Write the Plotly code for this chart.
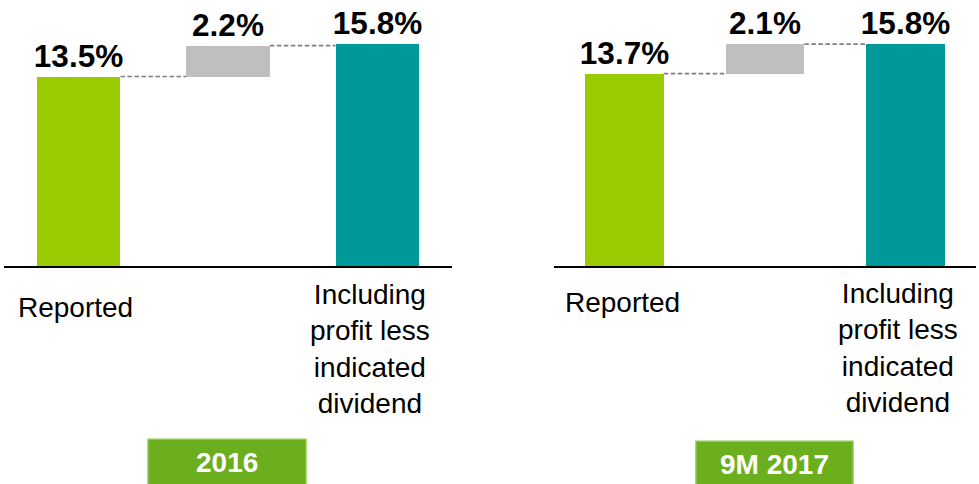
import plotly.graph_objects as go

# ---- data ----
categories = ["Reported", "", "Including<br>profit less<br>indicated<br>dividend"]
panel_titles = ["2016", "9M 2017"]
reported = [13.5, 13.7]
adjustment = [2.2, 2.1]
including = [15.8, 15.8]
bar_colors = ["#99CC00", "#BFBFBF", "#009999"]

W, H = 979, 484
BASE_PX = 266.5          # pixel y of the x-axis baseline
def py(y_px):
    return (BASE_PX - y_px) / BASE_PX

fig = go.Figure()

panels = [
    dict(xa="x", ya="y", dom=[4 / W, 452 / W],
         lab_y=[308, 350], lab_dx=[-3, -7],
         box=[148, 306], box_top=440, ttl_y=463),
    dict(xa="x2", ya="y2", dom=[554 / W, 976 / W],
         lab_y=[303, 349], lab_dx=[-2, -8],
         box=[696, 853], box_top=442, ttl_y=465),
]

BW = 0.56
annotations = []
shapes = []
for i, p in enumerate(panels):
    vals = [reported[i], adjustment[i], including[i]]
    bases = [0, reported[i], 0]
    tops = [b + v for b, v in zip(bases, vals)]
    fig.add_trace(go.Bar(
        x=[0, 1, 2], y=vals, base=bases,
        marker=dict(color=bar_colors, line=dict(width=0)),
        width=BW,
        text=[f"{v:.1f}%" for v in vals],
        textposition="outside",
        textfont=dict(family="Liberation Sans, Arial, sans-serif", size=31.5, color="#000000"),
        texttemplate="<b>%{text}</b>",
        constraintext="none",
        cliponaxis=False,
        xaxis=p["xa"], yaxis=p["ya"],
        showlegend=False, hoverinfo="skip",
    ))
    # dashed connectors
    fig.add_trace(go.Scatter(
        x=[0 + BW / 2, 1 - BW / 2, None, 1 + BW / 2, 2 - BW / 2],
        y=[tops[0], tops[0], None, tops[1], tops[1]],
        mode="lines",
        line=dict(color="#7F7F7F", width=1.7, dash="4.5px,2.5px"),
        xaxis=p["xa"], yaxis=p["ya"],
        showlegend=False, hoverinfo="skip", cliponaxis=False,
    ))
    # category labels
    for k, (cat, ly, dx) in enumerate(zip([categories[0], categories[2]], p["lab_y"], p["lab_dx"])):
        annotations.append(dict(
            x=[0, 2][k], xref=p["xa"], y=py(ly), yref="paper",
            text=cat, showarrow=False, xanchor="center", yanchor="middle",
            xshift=dx, align="center",
            font=dict(family="Liberation Sans, Arial, sans-serif", size=28, color="#000000"),
        ))
    # period box
    shapes.append(dict(
        type="rect", xref="paper", yref="paper",
        x0=p["box"][0] / W, x1=p["box"][1] / W,
        y0=py(p["box_top"]), y1=py(500),
        fillcolor="#6BAE1E", line=dict(color="#8DCB55", width=1.5), layer="above",
    ))
    annotations.append(dict(
        x=(p["box"][0] + p["box"][1]) / 2 / W, xref="paper",
        y=py(p["ttl_y"]), yref="paper",
        text=f"<b>{panel_titles[i]}</b>", showarrow=False,
        xanchor="center", yanchor="middle",
        font=dict(family="Liberation Sans, Arial, sans-serif", size=28, color="#FFFFFF"),
    ))

axis_common = dict(range=[-0.5, 2.5], showgrid=False, zeroline=False,
                   showticklabels=False, ticks="", showline=True,
                   linecolor="#000000", linewidth=1.5, fixedrange=True)
yaxis_common = dict(range=[0, 18.95], visible=False, fixedrange=True)

fig.update_layout(
    width=W, height=H,
    margin=dict(l=0, r=0, t=0, b=H - BASE_PX),
    paper_bgcolor="#FFFFFF", plot_bgcolor="#FFFFFF",
    xaxis=dict(domain=panels[0]["dom"], anchor="y", **axis_common),
    xaxis2=dict(domain=panels[1]["dom"], anchor="y2", **axis_common),
    yaxis=dict(anchor="x", **yaxis_common),
    yaxis2=dict(anchor="x2", **yaxis_common),
    annotations=annotations,
    shapes=shapes,
    bargap=0,
)

fig.write_html("out.html", config={"displayModeBar": False},
               post_script="document.body.style.margin='0';document.body.style.overflow='hidden';")
